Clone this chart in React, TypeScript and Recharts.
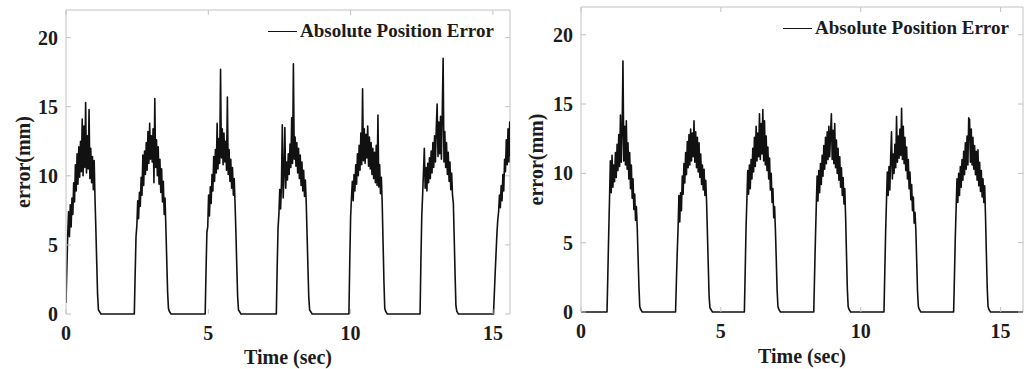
import React from 'react';
import { LineChart, Line, XAxis, YAxis, ReferenceLine, Legend, Label } from 'recharts';

// logger samples every 30 ms
const SAMPLE_STEP = 0.03;

const yTicks = [0, 5, 10, 15, 20];
const xTicks = [0, 5, 10, 15];
const Y_MAX = 22;
const SERIES_NAME = 'Absolute Position Error';

// ---- left run: pulse start times (sec) and sampled error (mm) ----
const leftStarts = [0, 2.4, 4.89, 7.39, 9.94, 12.44, 15.02];
const leftP1 = [0.8, 3.3, 5.7, 7.4, 5.6, 7.9, 6.3, 8.4, 7.2, 9.5, 8.1, 10.8, 8.9, 11.6, 9.4, 12.1, 9.9, 12.5, 10.3, 14.1, 10.0, 13.6, 10.6, 15.3, 10.2, 12.9, 10.5, 14.8, 9.8, 12.0, 9.5, 11.4, 9.0, 11.1, 8.3, 6.1, 3.7, 1.4, 0.3, 0.2, 0.1, 0];
const leftP2 = [0, 2.9, 5.6, 6.4, 8.2, 6.9, 8.8, 7.8, 9.9, 8.6, 11.5, 9.3, 11.8, 10.1, 12.4, 10.4, 13.2, 10.9, 13.8, 11.2, 12.9, 11.0, 13.4, 9.5, 15.6, 10.6, 12.6, 10.0, 12.1, 9.4, 11.2, 8.8, 10.5, 8.1, 9.6, 7.2, 8.4, 6.2, 3.9, 1.6, 0.4, 0.2, 0.1, 0];
const leftP3 = [0, 3.1, 5.9, 6.3, 8.6, 7.1, 9.2, 8.0, 10.1, 8.9, 11.4, 9.6, 11.9, 10.2, 13.8, 10.5, 12.7, 10.9, 17.7, 11.3, 13.4, 10.8, 13.1, 11.0, 12.5, 10.4, 15.7, 10.1, 11.9, 9.6, 11.2, 9.1, 10.6, 8.6, 9.8, 8.0, 5.9, 3.5, 1.3, 0.3, 0.2, 0.1, 0];
const leftP4 = [0, 3.4, 6.2, 7.2, 9.0, 7.6, 9.4, 13.7, 8.4, 10.2, 13.5, 9.1, 11.0, 9.7, 11.6, 10.1, 12.3, 10.6, 14.2, 10.9, 18.1, 11.2, 12.8, 10.7, 12.4, 10.2, 12.0, 9.8, 11.5, 9.3, 11.0, 8.9, 10.4, 8.5, 9.7, 8.1, 5.8, 3.4, 1.2, 0.3, 0.2, 0.1, 0];
const leftP5 = [0, 3.8, 7.0, 8.4, 9.6, 8.2, 10.1, 8.9, 10.8, 9.4, 11.6, 10.0, 12.2, 10.4, 13.1, 10.8, 16.3, 11.1, 13.4, 10.9, 13.0, 11.3, 13.6, 10.7, 12.8, 10.5, 12.4, 10.1, 12.0, 9.8, 11.7, 9.5, 12.2, 9.3, 14.4, 9.2, 10.8, 8.7, 9.9, 8.0, 5.2, 2.4, 0.4, 0.2, 0.1, 0];
const leftP6 = [0, 3.9, 7.1, 8.6, 10.3, 12.0, 9.1, 10.6, 8.9, 10.9, 9.5, 11.3, 9.8, 11.8, 10.2, 12.4, 10.6, 12.9, 11.0, 13.5, 15.2, 11.4, 13.9, 11.6, 14.3, 11.2, 14.6, 18.5, 11.0, 13.2, 10.6, 12.4, 10.1, 11.7, 9.6, 11.0, 9.0, 10.2, 8.6, 8.0, 5.5, 2.9, 0.6, 0.2, 0.1, 0];
const leftP7 = [0, 1.5, 3.0, 4.4, 5.8, 6.8, 7.4, 8.6, 7.7, 9.3, 8.2, 10.1, 8.9, 11.2, 10.3, 12.6, 10.8, 13.4, 11.0, 13.9, 11.4];
const leftXMax = 15.6;

// ---- right run ----
const rightStarts = [0.93, 3.38, 5.84, 8.32, 10.83, 13.32];
const rightP1 = [0, 2.8, 5.6, 8.2, 10.9, 8.6, 11.3, 9.0, 10.6, 9.4, 11.5, 9.7, 12.1, 10.2, 12.8, 10.5, 14.2, 10.8, 13.1, 18.1, 10.9, 13.4, 10.6, 13.8, 10.3, 12.2, 9.6, 11.5, 8.9, 10.6, 8.2, 9.6, 7.4, 8.5, 6.6, 7.6, 6.1, 4.0, 1.9, 0.4, 0.2, 0.1, 0];
const rightP2 = [0, 2.2, 4.3, 6.0, 8.4, 6.5, 8.6, 7.3, 9.8, 8.5, 10.7, 9.3, 11.5, 9.9, 12.3, 10.4, 12.8, 10.6, 13.2, 10.9, 12.9, 11.2, 13.8, 10.8, 13.0, 10.4, 12.6, 10.1, 12.2, 9.7, 11.4, 9.2, 10.6, 8.8, 10.3, 8.4, 9.5, 7.9, 5.6, 3.3, 1.1, 0.3, 0.2, 0.1, 0];
const rightP3 = [0, 3.0, 6.1, 8.1, 10.2, 8.5, 10.6, 8.9, 11.0, 9.6, 11.8, 10.1, 12.6, 10.5, 13.4, 10.9, 12.9, 11.2, 14.3, 11.0, 13.6, 11.4, 14.6, 10.9, 13.8, 10.6, 12.7, 10.2, 11.9, 9.6, 11.1, 8.8, 10.0, 7.9, 8.9, 6.8, 7.6, 5.9, 3.8, 1.6, 0.4, 0.2, 0.1, 0];
const rightP4 = [0, 2.7, 5.3, 7.6, 9.8, 8.0, 10.2, 8.6, 10.7, 9.2, 11.3, 9.8, 12.0, 10.3, 12.6, 10.7, 13.0, 11.0, 13.4, 11.2, 12.8, 14.3, 11.0, 13.1, 10.7, 13.6, 10.4, 12.4, 10.0, 11.8, 9.5, 11.2, 9.0, 10.4, 8.4, 9.7, 7.8, 8.9, 6.8, 4.2, 1.7, 0.4, 0.2, 0.1, 0];
const rightP5 = [0, 2.9, 5.8, 8.0, 10.1, 8.4, 10.5, 8.8, 11.2, 13.0, 9.6, 11.4, 10.0, 12.1, 10.4, 14.1, 10.8, 12.7, 11.1, 13.2, 11.3, 14.7, 11.0, 13.4, 10.7, 12.6, 10.2, 11.9, 9.6, 11.0, 8.9, 10.1, 8.1, 9.2, 7.3, 8.3, 6.4, 7.2, 5.9, 3.7, 1.5, 0.4, 0.2, 0.1, 0];
const rightP6 = [0, 2.6, 5.4, 7.5, 9.6, 7.9, 10.0, 8.4, 10.5, 9.0, 11.0, 9.5, 11.6, 9.9, 12.2, 10.3, 12.7, 10.6, 14.0, 13.9, 10.8, 13.2, 10.6, 12.6, 10.3, 12.0, 9.9, 11.6, 9.5, 11.7, 9.1, 10.8, 8.7, 10.2, 8.3, 9.6, 7.9, 9.1, 6.9, 4.3, 1.8, 0.4, 0.2, 0.1, 0];
const rightXMax = 15.8;

type Pt = { t: number; err: number };

const buildSeries = (starts: number[], pulses: number[][], tEnd: number): Pt[] => {
  const pts: Pt[] = [];
  if (starts[0] > 0) pts.push({ t: 0, err: 0 });
  pulses.forEach((vals, k) => {
    vals.forEach((v, i) => pts.push({ t: +(starts[k] + i * SAMPLE_STEP).toFixed(3), err: v }));
  });
  const last = pts[pts.length - 1];
  if (last.t < tEnd && last.err === 0) pts.push({ t: tEnd, err: 0 });
  return pts;
};

const leftData = buildSeries(leftStarts, [leftP1, leftP2, leftP3, leftP4, leftP5, leftP6, leftP7], leftXMax);
const rightData = buildSeries(rightStarts, [rightP1, rightP2, rightP3, rightP4, rightP5, rightP6], rightXMax);

const FRAME = '#c2c2c2';
const INK = '#111';
const serif = '"Liberation Serif", "Times New Roman", serif';
const labelStyle: React.CSSProperties = { fontFamily: serif, fontWeight: 700, fontSize: 20, fill: '#1c1c1c' };

interface PanelProps {
  data: Pt[];
  xMax: number;
  left: number;
  width: number;
  margin: { top: number; right: number; bottom: number; left: number };
  xAxisHeight: number;
  titleX: number;
  titleBaseline: number;
  legendTop: number;
}

const ErrorPanel: React.FC<PanelProps> = ({ data, xMax, left, width, margin, xAxisHeight, titleX, titleBaseline, legendTop }) => {
  const height = 369;
  const plotW = width - margin.left - margin.right - 56;
  const plotH = height - margin.top - margin.bottom - xAxisHeight;

  const renderYTick = (p: any) => {
    const ax = p.x + 8;
    return (
      <g>
        <line x1={ax} x2={ax + 5} y1={p.y} y2={p.y} stroke={FRAME} />
        <line x1={ax + plotW} x2={ax + plotW - 5} y1={p.y} y2={p.y} stroke={FRAME} />
        <text x={p.x} y={p.y + 7} textAnchor="end" style={labelStyle}>{p.payload.value}</text>
      </g>
    );
  };

  const renderXTick = (p: any) => (
    <g>
      <line x1={p.x} x2={p.x} y1={p.y} y2={p.y - 5} stroke={FRAME} />
      <line x1={p.x} x2={p.x} y1={p.y - plotH} y2={p.y - plotH + 5} stroke={FRAME} />
      <text x={p.x} y={p.y + 26} textAnchor="middle" style={labelStyle}>{p.payload.value}</text>
    </g>
  );

  const renderLegend = (props: any) => (
    <div style={{ display: 'flex', alignItems: 'center', fontFamily: serif, fontWeight: 700, fontSize: 19, lineHeight: '22px', color: '#1c1c1c', whiteSpace: 'nowrap' }}>
      <span style={{ display: 'inline-block', width: 29, borderTop: `1.5px solid ${INK}`, marginRight: 3 }} />
      {props.payload && props.payload[0] ? props.payload[0].value : SERIES_NAME}
    </div>
  );

  return (
    <div style={{ position: 'absolute', left, top: 0 }}>
      <LineChart width={width} height={height} data={data} margin={margin}>
        <XAxis
          dataKey="t"
          type="number"
          domain={[0, xMax]}
          ticks={xTicks}
          interval={0}
          allowDataOverflow
          axisLine={false}
          tickLine={false}
          tickSize={0}
          tickMargin={0}
          height={xAxisHeight}
          tick={renderXTick}
        >
          <Label
            content={(lp: any) => {
              const vb = lp.viewBox || { x: 0, width: 0 };
              return (
                <text x={vb.x + vb.width / 2} y={titleBaseline} textAnchor="middle" style={labelStyle}>
                  Time (sec)
                </text>
              );
            }}
          />
        </XAxis>
        <YAxis
          type="number"
          domain={[0, Y_MAX]}
          ticks={yTicks}
          interval={0}
          width={56}
          axisLine={{ stroke: FRAME }}
          tickLine={false}
          tickSize={0}
          tickMargin={8}
          tick={renderYTick}
        >
          <Label
            content={(lp: any) => {
              const vb = lp.viewBox || { y: 0, height: 0 };
              const cy = vb.y + vb.height / 2;
              return (
                <text x={titleX} y={cy} transform={`rotate(-90 ${titleX} ${cy})`} textAnchor="middle" style={labelStyle}>
                  error(mm)
                </text>
              );
            }}
          />
        </YAxis>
        <ReferenceLine y={Y_MAX} stroke={FRAME} />
        <ReferenceLine x={xMax} stroke={FRAME} />
        <Legend
          layout="horizontal"
          verticalAlign="middle"
          align="center"
          content={renderLegend}
          wrapperStyle={{ left: margin.left + 56 + 202, top: legendTop, width: 'auto', right: 'auto', bottom: 'auto' }}
        />
        <Line
          type="linear"
          dataKey="err"
          name={SERIES_NAME}
          stroke={INK}
          strokeWidth={1.6}
          strokeLinejoin="round"
          dot={false}
          activeDot={false}
          isAnimationActive={false}
        />
      </LineChart>
    </div>
  );
};

export default function App() {
  return (
    <div style={{ position: 'absolute', left: 0, top: 0, width: 1026, height: 369, background: '#fff', overflow: 'hidden' }}>
      <ErrorPanel
        data={leftData}
        xMax={leftXMax}
        left={0}
        width={520}
        margin={{ top: 10, right: 10, bottom: 10, left: 10 }}
        xAxisHeight={45}
        titleX={30}
        titleBaseline={364}
        legendTop={20}
      />
      <ErrorPanel
        data={rightData}
        xMax={rightXMax}
        left={516}
        width={510}
        margin={{ top: 7, right: 3, bottom: 10, left: 9 }}
        xAxisHeight={47}
        titleX={27}
        titleBaseline={363}
        legendTop={17}
      />
    </div>
  );
}
